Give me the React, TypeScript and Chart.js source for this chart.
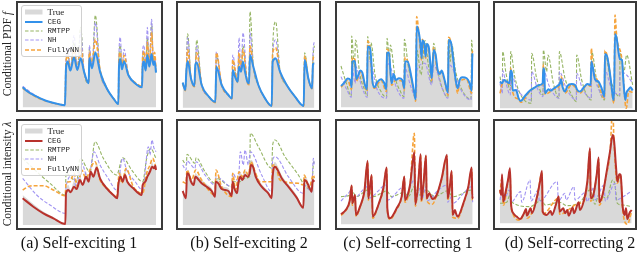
import React, { useEffect, useRef } from "react";
import { Chart, registerables } from "chart.js";

Chart.register(...registerables);

type P = [number, number];

// ---------- (a) Self-exciting 1 : conditional PDF ----------
const aTopTrue: P[] = [[0,20.5],[4.25,15.5],[10.5,10.8],[18,6.4],[25.5,3.8],[31.75,2.1],[32.5,40],[33.75,47],[35.75,37],[38.5,52],[41,37.5],[43.5,51],[46,36],[49.5,24.5],[50,51],[52,39.5],[54.5,57],[58,36],[63,19.3],[68,9.2],[71.75,3.4],[72.25,42],[73.25,50],[74.5,38.5],[76,47],[79.25,32.5],[84.25,24.2],[89.5,20.2],[90,42],[91,47],[92.25,37],[93.5,54],[95,41],[96.75,55],[98,42.5],[99,47],[100,35]];
const aTopCeg: P[] = [[0,20],[4.25,15.3],[10.5,10.7],[18,6.3],[25.5,3.7],[31.75,2],[32.5,39],[33.75,45.7],[35.75,36.7],[38.5,50],[41,37.3],[43.5,49],[46,35.7],[49.5,24],[50,49],[52,39],[54.5,54.7],[58,35.7],[63,19],[68,9],[71.75,3.3],[72.25,40.7],[73.25,48],[74.5,38],[76,45.7],[79.25,32.3],[84.25,24],[89.5,20],[90,40.7],[91,45.7],[92.25,36.7],[93.5,52.3],[95,40.7],[96.75,53.3],[98,42.3],[99,45.7],[100,34.7]];
const aTopRmtpp: P[] = [[0,20],[10.5,10.7],[18,6.3],[25.5,3.7],[31.75,2],[32.5,42],[33.75,55],[35.75,37],[38.5,65],[41,37],[43.5,80],[46,36],[49.5,24],[50,58],[52,40],[54.5,92],[58,37],[63,19],[68,9],[71.75,3],[72.25,50],[73.25,62],[74.5,38],[76,47],[79.25,32],[84.25,24],[89.5,20],[90,52],[91,46],[92.25,37],[93.5,70],[95,41],[96.75,84],[98,43],[99,48],[100,35]];
const aTopNh: P[] = [[0,21],[10.5,11],[18,6],[25.5,3.5],[31.75,2],[32.5,48],[33.75,60],[35.75,38],[38.5,72],[41,38],[43.5,75],[46,37],[49.5,24.5],[50,62],[52,40],[54.5,85],[58,36],[63,19.5],[68,9],[71.75,3.5],[72.25,55],[73.25,70],[74.5,39],[76,58],[79.25,33],[84.25,24.5],[89.5,20],[90,58],[91,62],[92.25,38],[93.5,80],[95,42],[96.75,88],[98,44],[99,50],[100,36]];
const aTopFully: P[] = [[0,19],[4.25,15],[10.5,10],[18,6],[25.5,3.5],[31.75,2.5],[32.5,45],[33.75,52],[35.75,38],[38.5,58],[41,38],[43.5,60],[46,36],[49.5,25],[50,55],[52,42],[54.5,68],[58,38],[63,19.5],[68,9],[71.75,4],[72.25,48],[73.25,55],[74.5,40],[76,52],[79.25,33],[84.25,25],[89.5,21],[90,50],[91,56],[92.25,38],[93.5,65],[95,42],[96.75,75],[98,45],[99,55],[100,38]];

// ---------- (a) Self-exciting 1 : conditional intensity ----------
const aBotTrue: P[] = [[0,30],[8,21],[15.5,13.5],[23,8],[32,2],[32.5,34],[34.25,40],[36,35],[38.5,44],[40.5,38],[43,50],[45,42],[47.5,53],[49.5,45],[51,58],[53,50],[55.5,62],[58,48],[63,38],[68,31],[71,28],[71.75,44],[73.5,53],[75,45],[76.75,55],[78.5,45],[83,38],[89.25,31],[90,44],[92,47],[93.5,52],[95.5,57],[97,63],[98.5,59],[99.5,63],[100,57]];
const aBotCeg: P[] = [[0,26.7],[8,18.3],[15.5,11.7],[23,6.7],[32,1],[32.5,31.7],[34.25,35],[36,32.7],[38.5,38.3],[40.5,36],[43,45],[45,40],[47.5,48.3],[49.5,43.3],[51,53.3],[53,48.3],[55.5,57.3],[58,46.7],[63,36.7],[68,30],[71,26.7],[71.75,40],[73.5,48.3],[75,43.3],[76.75,50],[78.5,43.3],[83,36.7],[89.25,30],[90,40],[92,43.3],[93.5,48.3],[95.5,53.3],[97,58.3],[98.5,56.7],[99.5,59.3],[100,55]];
const aBotRmtpp: P[] = [[0,66.7],[10.5,53.3],[20.5,41.7],[32,30],[32.5,51.7],[40.5,43.3],[43,66.7],[50.5,53.3],[54.25,83.3],[60.5,66.7],[70.5,50],[75,67.3],[81.75,55],[90,43.3],[93,66.7],[96,76.7],[100,66.7]];
const aBotNh: P[] = [[0,46.7],[10.5,30],[20.5,20],[32,11.7],[32.5,38.3],[38,50],[40,38.3],[44.25,61.7],[49.25,45],[53.5,73.3],[58,60],[64,47],[70.5,35],[75,66.7],[78,55],[84,44],[90,35],[94.25,78.3],[95.5,70],[97,85],[98.5,76.7],[100,73.3]];
const aBotFully: P[] = [[0,35],[5.5,39],[15.5,39.3],[23,35],[32,29.3],[32.5,41.7],[35.5,43.3],[38.5,51.7],[41,38.3],[44.25,55],[47.5,46.7],[51,56.7],[54.25,63.3],[58,45],[64,36],[70.5,28.3],[72.5,51.7],[74.5,41.7],[77.5,56.7],[83,38.3],[90,31.7],[93,51.7],[95.5,60],[97.5,66.7],[99.5,60]];

// ---------- (b) Self-exciting 2 : conditional PDF ----------
const bTopTrue: P[] = [[0,26],[2,18.5],[2.75,37],[3.75,48],[6.25,30],[8.75,22.5],[9.5,44],[10.5,47],[14.25,23.5],[19.25,12],[24.5,6],[25.25,43],[29.25,23.5],[34.25,13],[37,9.6],[37.5,39],[39.25,32],[41.25,27],[42.25,43],[43.75,37],[45.25,48],[46.75,37],[48.5,27],[49.75,25],[50.5,55],[53,42],[56.75,23.5],[61.75,9.6],[66.75,1.8],[67.5,48],[69.75,51],[73,37],[78,23.5],[84.25,11.4],[90.75,1.8],[91.5,49],[94.25,30],[97,20],[97.75,45],[98.75,46]];
const bTopCeg: P[] = [[0,25],[2,17.7],[2.75,36],[3.75,46.7],[6.25,29.3],[8.75,21.7],[9.5,42.7],[10.5,45.3],[14.25,22.7],[19.25,11.7],[24.5,5.7],[25.25,41],[29.25,22.7],[34.25,12.7],[37,9.3],[37.5,37.7],[39.25,31],[41.25,26],[42.25,41],[43.75,36],[45.25,46],[46.75,36],[48.5,26],[49.75,24.3],[50.5,52.7],[53,41],[56.75,22.7],[61.75,9.3],[66.75,1.7],[67.5,46],[69.75,49.3],[73,36],[78,22.7],[84.25,11],[90.75,1.7],[91.5,47.7],[94.25,29.3],[97,19.3],[97.75,43.7],[98.75,44.3]];
const bTopRmtpp: P[] = [[0,25],[2,17.7],[3.75,74],[6.25,30],[8.75,21.7],[10.5,67.7],[14.25,23],[19.25,11.7],[24.5,5.7],[25.25,52],[29.25,22.7],[34.25,12.7],[37,9.3],[37.5,45],[41.25,26],[42.25,50],[43.75,36],[45.25,62],[48.5,26],[49.75,24.3],[50.5,96],[53,42],[56.75,22.7],[61.75,9.3],[66.75,1.7],[67.5,60],[69.75,86],[73,37],[78,22.7],[84.25,11],[90.75,1.7],[91.5,55],[94.25,29.3],[97,19.3],[97.75,50],[98.75,62]];
const bTopNh: P[] = [[0,25],[2,17.7],[3.75,70],[6.25,29.3],[8.75,21.7],[10.5,62],[14.25,22.7],[19.25,11.7],[24.5,5.7],[25.25,56],[29.25,22.7],[34.25,12.7],[37,9.3],[37.5,52.7],[41.25,26],[42.25,70],[43.75,36],[45.25,75],[48.5,26],[49.75,24.3],[50.5,75],[53,41],[56.75,22.7],[61.75,9.3],[66.75,1.7],[67.5,55],[69.75,68],[73,36],[78,22.7],[84.25,11],[90.75,1.7],[91.5,50],[94.25,29.3],[97,19.3],[97.75,55],[98.75,67]];
const bTopFully: P[] = [[0,24],[2,17],[3.75,58],[6.25,29.3],[8.75,21],[10.5,55],[14.25,22.7],[19.25,11.7],[24.5,5],[25.25,55],[29.25,22.7],[34.25,12.7],[37,9],[37.5,48],[41.25,25],[42.25,55],[43.75,36],[45.25,58],[48.5,25],[49.75,23],[50.5,62],[53,41],[56.75,22.7],[61.75,9.3],[66.75,1.5],[67.5,55],[69.75,60],[73,36],[78,22.7],[84.25,11],[90.75,1.5],[91.5,52],[94.25,29.3],[97,19],[97.75,48],[98.75,52]];

// ---------- (b) Self-exciting 2 : conditional intensity ----------
const bBotTrue: P[] = [[0,37],[2.5,29],[3.25,55],[4.75,54],[6.25,47],[8.25,43],[9.5,52],[11,50],[14.25,45],[18,41],[21.75,37],[24.25,31],[24.75,47],[26.75,45],[29.25,39],[34.25,37],[36.75,32],[37.5,48],[38.75,40],[40.75,35],[41.75,46],[43.25,53],[44.75,49],[46.75,55],[48.75,52],[50.25,56],[51.25,65],[52.75,63],[54.75,52],[59.25,41],[64.25,34],[66.75,29],[67.5,52],[69.25,63],[71.25,59],[74.25,50],[79.25,41],[85.5,30],[90.5,19],[91.25,49],[93,47],[94.75,41],[96.75,36],[97.5,49],[98.75,47]];
const bBotCeg: P[] = [[0,34],[2.5,26.7],[3.25,51.7],[4.75,50],[6.25,43.3],[8.25,40],[9.5,48.3],[11,46.7],[14.25,41.7],[18,38.3],[21.75,34],[24.25,28.3],[24.75,43.3],[26.75,41.7],[29.25,36],[34.25,34],[36.75,29],[37.5,43.3],[38.75,36.7],[40.75,31.7],[41.75,41.7],[43.25,48.3],[44.75,45],[46.75,50],[48.75,48.3],[50.25,51.7],[51.25,60],[52.75,58.3],[54.75,48.3],[59.25,38.3],[64.25,31.7],[66.75,26.7],[67.5,48.3],[69.25,58.3],[71.25,55],[74.25,46.7],[79.25,38.3],[85.5,27.3],[90.5,17.3],[91.25,45],[93,43.3],[94.75,38.3],[96.75,33.3],[97.5,45],[98.75,43.3]];
const bBotRmtpp: P[] = [[0,65],[2.75,60],[3.25,70.7],[9.25,61.7],[10,67.3],[16.75,53.3],[24.25,41.7],[25,46.7],[36.75,38.3],[37.5,43.3],[43,43.3],[46.75,46.7],[50.25,48.3],[50.75,91.7],[56.75,78.3],[66.75,56.7],[67.5,80],[69.25,85],[76.75,68.3],[86.75,50],[91.25,40],[96.75,35],[98.25,63.3],[98.75,61.7]];
const bBotNh: P[] = [[0,60],[2.5,55],[3.25,64],[9.25,56.7],[10,63.3],[16.75,50],[24.25,40],[25,48.3],[36.75,38.3],[37.5,51.7],[41.75,43.3],[43.25,73.3],[45.5,60],[46.75,75],[49.25,60],[50.75,73.3],[59.25,50],[66.75,33.3],[67.5,65],[69.25,68.3],[79.25,48.3],[90.5,31.7],[91.25,40],[96.75,33.3],[98,66.7],[98.75,60]];
const bBotFully: P[] = [[0,43.3],[2.5,41.7],[3.25,55],[6.75,45],[9.75,55],[14.25,45],[24.25,30],[25,55],[29.25,38.3],[36.75,28.3],[37.5,51.7],[39.75,35],[42.25,53.3],[44.75,48.3],[46.75,55],[49.25,50],[51.25,63.3],[54.25,53.3],[58,43.3],[66.75,43.3],[67.5,60],[69.25,60],[73,45],[86.75,41.7],[90.5,40],[91.25,50],[94.75,36.7],[98,50],[98.75,46.7]];

// ---------- (c) Self-correcting 1 : conditional PDF ----------
const cTopTrue: P[] = [[0,20],[2.5,23.5],[5,27.5],[7,26],[8,19],[8.5,44],[10.5,45],[11.5,27],[13,31],[14.5,35.5],[16,33.5],[18,21],[19.5,17],[20,59],[21.5,58.5],[22.5,49],[23.5,26],[25,19],[27.5,24.5],[30,27],[32.5,23],[34,17],[34.5,52.5],[36,53],[37.25,31],[38,23],[39.5,32],[41,26],[43.5,28],[46,26],[47.5,18],[48,44],[50,44.5],[52.5,31],[55,13],[56,7],[56.75,78],[58.25,74],[59.5,62],[60.5,47.5],[61,65],[62.5,62],[63.5,49],[64.25,62],[65.75,59],[67,43],[68,28],[69.5,56],[71,51],[72.5,36],[74.25,32],[75.5,35.5],[78,24.5],[80.25,14],[80.75,65.5],[82.5,63],[84.25,46],[86,26],[87.5,18],[89,26],[91,29],[94.25,28],[96.5,23],[98,16],[98.5,51],[98.75,52.5]];
const cTopCeg: P[] = [[0,21.3],[2.5,24.7],[5,28.7],[7,27.3],[8,20],[8.5,45.7],[10.5,46.3],[11.5,28],[13,32.3],[14.5,36.7],[16,34.7],[18,22.3],[19.5,18],[20,60.7],[21.5,60],[22.5,50.7],[23.5,27.3],[25,20],[27.5,25.7],[30,28],[32.5,24],[34,18],[34.5,54],[36,54.7],[37.25,32.3],[38,24],[39.5,33.3],[41,27.3],[43.5,29],[46,27.3],[47.5,19],[48,45.7],[50,45.7],[52.5,32.3],[55,14],[56,8],[56.75,80.7],[58.25,75.7],[59.5,64],[60.5,49],[61,66.7],[62.5,63.3],[63.5,50.7],[64.25,63.3],[65.75,60.7],[67,44],[68,29],[69.5,57.3],[71,52.3],[72.5,37.3],[74.25,33.3],[75.5,36.7],[78,25.7],[80.25,14.7],[80.75,67.3],[82.5,64.7],[84.25,47.3],[86,27.3],[87.5,19],[89,27.3],[91,30],[94.25,29],[96.5,24],[98,16.7],[98.5,52.3],[98.75,54]];
const cTopRmtpp: P[] = [[0,41.3],[4,24],[7.75,11.3],[8,71.3],[10,40.7],[11,67.3],[14,34],[17.5,18],[19.75,11.3],[20,70.7],[22,47.3],[22.5,64.7],[25.5,32.3],[30,15.7],[34.25,10],[34.5,69],[36.5,47.3],[37,62.3],[40.5,30.7],[44.25,16.7],[47.25,10.7],[47.5,68],[50.5,40.7],[54,21.3],[56.5,10.7],[57,57.3],[60,32.3],[63,66.7],[65.5,42.3],[68,24],[69.5,64],[72.5,37.3],[76,19],[80.25,10],[80.5,68],[82,45.7],[83,63.3],[86,35.7],[90.5,18],[97.5,8],[98,67.3],[98.75,50.7]];
const cTopNh: P[] = [[0,30.7],[4.5,17.3],[7.75,10],[8,42.3],[10.75,24],[11,40.7],[15.5,20.7],[19.75,10],[20,47.3],[22.5,44],[26.75,19],[34.25,9],[34.5,44],[37,40.7],[41.75,19],[47.25,9],[47.5,40.7],[52.5,20],[56.5,9],[57,37.3],[63,44],[68,22.3],[69.5,42.3],[75.5,20],[80.25,9],[80.5,42.3],[83,40.7],[89.25,19],[97.5,7.3],[98,42.3],[98.75,35.7]];
const cTopFully: P[] = [[0,20],[5,27],[8,18],[8.5,50],[10.5,47],[11.5,26],[14.5,35],[18,21],[19.5,16],[20,66],[21.5,61],[23.5,26],[25,19],[30,27],[34,16],[34.5,58],[36,55],[37.25,31],[38,22],[41,27],[46,26],[47.5,17],[48,50],[50,46],[52.5,31],[55,12],[56,6],[56.75,90.7],[58.25,76],[60.5,47],[61,68],[63.5,49],[64.25,64],[67,43],[68,27],[69.5,60],[72.5,36],[75.5,35],[78,24],[80.25,12],[80.75,70],[82.5,65],[86,26],[87.5,14],[89,26],[94.25,28],[98,14],[98.5,56],[98.75,55]];

// ---------- (c) Self-correcting 1 : conditional intensity ----------
const cBotTrue: P[] = [[0,11],[3.5,15.5],[6.5,24.5],[8,40],[8.5,22],[10.5,30.5],[11.25,10],[14.25,18.5],[17.5,34],[20,65],[20.5,27],[23,50.5],[23.75,8.5],[28,20],[31.75,37],[34.25,58],[34.75,17],[36.75,7],[41.75,17],[45.5,29],[47.5,49],[48,25.5],[51.75,40.5],[55,73.5],[55.75,21],[58,44],[59.75,71.5],[60.25,25.5],[62,44],[63.75,70],[64.25,27],[66.25,32],[68.5,26.5],[71.75,30.5],[75.5,47.5],[79.5,71],[80,27],[81.75,40.5],[83,55],[83.75,10],[85.5,15.5],[86.25,12],[87.5,8.5],[91.75,22],[95.5,39],[98,58],[98.5,27],[98.75,28.5]];
const cBotCeg: P[] = [[0,10],[3.5,14.3],[6.5,23.3],[8,38.7],[8.5,21],[10.5,29.3],[11.25,9.3],[14.25,17.7],[17.5,32.7],[20,63.3],[20.5,26],[23,49.3],[23.75,7.7],[28,19.3],[31.75,36],[34.25,56.7],[34.75,16],[36.75,6],[41.75,16],[45.5,27.7],[47.5,47.7],[48,24.3],[51.75,39.3],[55,72],[55.75,20],[58,42.7],[59.75,70],[60.25,24.3],[62,42.7],[63.75,68.7],[64.25,26],[66.25,31],[68.5,25.3],[71.75,29.3],[75.5,46],[79.5,69.3],[80,26],[81.75,39.3],[83,53.3],[83.75,9.3],[85.5,14.3],[86.25,11],[87.5,7.7],[91.75,21],[95.5,37.7],[98,56.7],[98.5,26],[98.75,27.7]];
const cBotRmtpp: P[] = [[0,27.7],[6.75,29.3],[8,33.3],[11.75,27.7],[20,34.3],[24.25,27.7],[34.25,33.3],[38,27.7],[47.5,32],[50.5,27.7],[55,37.7],[59.25,29.3],[63.75,34.3],[70.5,27.7],[79.5,33.3],[84.25,27.7],[98,34.3],[98.75,29.3]];
const cBotNh: P[] = [[0,23.3],[5.5,31],[8,34.3],[8.5,24.3],[20,37.7],[20.5,26],[34.25,39.3],[34.75,24.3],[47.5,37.7],[48,27.7],[55,44.3],[55.75,22.7],[59.75,37.7],[60.5,24.3],[63.75,37.7],[64.5,23.3],[73,34.3],[79.5,39.3],[80,22],[83,27.7],[83.75,21],[93,32.7],[98,37.7],[98.75,22]];
const cBotFully: P[] = [[0,9],[3.5,13.5],[6.5,22.5],[8,38],[8.5,19],[10.5,28.5],[11.25,8],[14.25,17],[17.5,32],[20,62],[20.5,24],[23,48],[23.75,6],[28,19],[31.75,35],[34.25,56],[34.75,14],[36.75,5],[41.75,15],[45.5,27],[47.5,47],[48,22],[51.75,39],[55,91],[55.75,18],[58,42],[59.75,69],[60.25,22],[62,42],[63.75,68],[64.25,24],[68.5,20],[71.75,29],[75.5,45],[79.5,68],[80,24],[81.75,38],[83,52],[83.75,7],[87.5,6],[91.75,20],[95.5,37],[98,55],[98.5,24],[98.75,26]];

// ---------- (d) Self-correcting 2 : conditional PDF ----------
const dTopTrue: P[] = [[0,26],[1.5,24.5],[3,27.5],[5,26],[7,24.5],[8,36.5],[9,34],[9.5,17],[12,18],[14,9.5],[15.5,7],[18.75,12],[22.5,17.5],[26.25,20.5],[29.5,22.5],[32,24.5],[32.5,39],[33.25,36],[33.75,14.5],[36.25,18.5],[38,17.5],[40.5,19.5],[43,22],[45,24.5],[45.75,28],[47,20.5],[48.75,16.5],[50.5,22],[53.75,24],[56.25,23],[58,18],[60,16.5],[63,20.5],[65.5,24],[68,23],[68.5,45.5],[69.5,41],[71.25,28.5],[73.75,26],[76.25,19.5],[78.25,11.5],[78.75,53],[80.25,51.5],[81.75,41],[83.25,26],[84.75,9.5],[85.5,8],[86.25,72],[87.5,68.5],[89,54],[90,48],[91.5,47.5],[92.5,27.5],[94,8],[94.75,14.5],[96.5,18.5],[98,20.5],[99.5,17.5]];
const dTopCeg: P[] = [[0,26.7],[1.5,25],[3,28.3],[5,26.7],[7,25],[8,37.7],[9,35],[9.5,17.7],[12,18.3],[14,10],[15.5,7.3],[18.75,12.3],[22.5,17.7],[26.25,21],[29.5,23.3],[32,25],[32.5,40],[33.25,36.7],[33.75,15],[36.25,19],[38,17.7],[40.5,20],[43,22.3],[45,25],[45.75,29],[47,21],[48.75,16.7],[50.5,22.3],[53.75,24.3],[56.25,23.3],[58,18.3],[60,16.7],[63,21],[65.5,24.3],[68,23.3],[68.5,46.7],[69.5,41.7],[71.25,29],[73.75,26.7],[76.25,20],[78.25,11.7],[78.75,54.3],[80.25,52.3],[81.75,41.7],[83.25,26.7],[84.75,10],[85.5,8.3],[86.25,74],[87.5,70],[89,55],[90,49],[91.5,48.3],[92.5,28.3],[94,8.3],[94.75,15],[96.5,19],[98,21],[99.5,17.7]];
const dTopRmtpp: P[] = [[0,31.7],[1.75,21],[2,56.7],[4.5,35],[7.75,18.3],[8,56.7],[11,31.7],[16.25,11.7],[23.5,5],[23.75,55],[27.5,30],[32.25,13.3],[32.5,58.3],[35,36.7],[36,53.3],[40,25],[44.25,10],[44.5,56.7],[48.75,30],[53.75,13.3],[57.25,6.7],[57.5,53.3],[61.25,28.3],[65,13.3],[68.5,8.3],[68.75,56.7],[72.5,28.3],[78.5,8.3],[78.75,55],[83,28.3],[89.75,11.7],[90,55],[93,36.7],[95,53.3],[99.5,23.3]];
const dTopNh: P[] = [[0,25],[1.75,15],[2,37.7],[4.5,25],[7.75,13.3],[8,36.7],[12.5,20],[16.25,13.3],[23.5,8.3],[23.75,36.7],[28,20],[32.25,11.7],[32.5,38.3],[37,22],[44.25,10],[44.5,36.7],[50,19],[57.25,8.3],[57.5,35],[62,19],[68.5,10],[68.75,38.3],[73,22],[78.5,10],[78.75,38.3],[83,22],[89.75,13.3],[90,36.7],[95,33.3],[99.5,25]];
const dTopFully: P[] = [[0,15],[1.5,24],[3,28],[7,24],[8,40],[9.5,16],[14,9],[15.5,6],[22.5,17],[29.5,23],[32,24],[32.5,44],[33.75,14],[40.5,19],[45,24],[45.75,32],[48.75,15],[53.75,24],[60,15],[65.5,24],[68,22],[68.5,60],[69.5,44],[73.75,26],[78.25,10],[78.75,58],[81.75,42],[84.75,8],[85.5,5],[86.25,93.3],[87.5,72],[91.5,48],[94,4],[94.75,0],[96.5,17],[99.5,16]];

// ---------- (d) Self-correcting 2 : conditional intensity ----------
const dBotTrue: P[] = [[0,35],[1,30],[1.5,51],[2.5,23],[4,31.5],[6,45],[7.5,57],[8.25,21.5],[10,11],[12.5,7.5],[15,5],[18,11],[19.5,15.5],[20.25,8.5],[23,16],[24,11],[27.5,26.5],[30,43.5],[31.5,54],[32,12.5],[35,9],[38,13],[39,9],[42,20],[44,28],[44.75,12.5],[47.5,16],[48.75,11],[50.5,14],[51.5,8.5],[54.5,16.5],[55.5,11],[59,22],[60,14],[63,24.5],[65.5,43.5],[67.5,77],[68,26],[70,29.5],[72.5,50],[74,67.5],[74.5,22],[77,30],[80,53.5],[82.5,73.5],[84.5,90],[85.5,85],[87,58.5],[88,43],[89.5,50.5],[90.5,50],[92,17.5],[93.5,9],[94.5,16],[95.5,5],[97,11],[98.75,14]];
const dBotCeg: P[] = [[0,33.3],[1,28.3],[1.5,49],[2.5,21.7],[4,30],[6,43.3],[7.5,55],[8.25,20],[10,10],[12.5,6.7],[15,4.3],[18,10],[19.5,14.3],[20.25,7.7],[23,15],[24,10],[27.5,25],[30,41.7],[31.5,52.3],[32,11.7],[35,8.3],[38,12.3],[39,8.3],[42,19],[44,26.7],[44.75,11.7],[47.5,15],[48.75,10],[50.5,13.3],[51.5,7.7],[54.5,15.7],[55.5,10],[59,21],[60,13.3],[63,23.3],[65.5,41.7],[67.5,75],[68,25],[70,28.3],[72.5,48.3],[74,65.7],[74.5,21],[77,29],[80,51.7],[82.5,71.7],[84.5,88.3],[85.5,83.3],[87,56.7],[88,41.7],[89.5,49],[90.5,48.3],[92,16.7],[93.5,8.3],[94.5,15],[95.5,4.3],[97,10],[98.75,13.3]];
const dBotRmtpp: P[] = [[0,20],[5,21],[7.5,28.3],[9,21],[22.5,16.7],[31.5,23.3],[33.75,18.3],[45,21],[50,17.7],[60,21],[67.5,33.3],[71.25,19],[74,28.3],[80,25],[84.5,43.3],[86.25,38.3],[88,20],[92,18.3],[98.75,16.7]];
const dBotNh: P[] = [[0,23.3],[1,31.7],[2.5,21],[7,33.3],[8.25,21],[15.5,31.7],[16.25,21],[22.5,43.3],[23.25,22.3],[28.75,33.3],[29.5,21.7],[43,41.7],[43.75,22.3],[48.75,30],[49.5,23.3],[55.5,36.7],[56.25,23.3],[64.5,31],[65,21.7],[70.5,35.7],[71.25,23.3],[78,38.3],[79,22.3],[86.25,40],[87,23.3],[92.5,26.7],[97.5,31],[98.75,31.7]];
const dBotFully: P[] = [[0,30],[1.5,45],[2.5,18],[6,42],[7.5,52],[8.25,16],[15,3],[19.5,13],[20.25,5],[27.5,24],[31.5,50],[32,9],[44,25],[44.75,9],[59,20],[63,22],[65.5,40],[67.5,73],[68,22],[72.5,47],[74,64],[74.5,18],[80,50],[82.5,70],[84.5,115],[85.5,82],[88,40],[90.5,47],[92,14],[95.5,-1],[98.75,12]];

// ---------- legend / labels ----------
const seriesLabels = ["True", "CEG", "RMTPP", "NH", "FullyNN"];
const captions = ["(a) Self-exciting 1", "(b) Self-exciting 2", "(c) Self-correcting 1", "(d) Self-correcting 2"];

const GRAY = "#d9d9d9";
const BLUE = "#3391ea";
const RED = "#b8322c";
const GREEN = "#95b463";
const PURPLE = "#a194f2";
const ORANGE = "#f6a43c";

const SERIF = '"Liberation Serif", "DejaVu Serif", serif';
const MONO = '"Liberation Mono", "DejaVu Sans Mono", monospace';

interface Spec {
  left: number; top: number; width: number; height: number;
  x: [number, number]; y: [number, number];
  tr: P[]; ceg: P[]; rm: P[]; nh: P[]; fn: P[]; cegColor: string;
}

const specs: Spec[] = [
  { left: 16, top: 1, width: 147, height: 111, x: [-5, 105.25], y: [-4.7, 106.3], tr: aTopTrue, ceg: aTopCeg, rm: aTopRmtpp, nh: aTopNh, fn: aTopFully, cegColor: BLUE },
  { left: 176, top: 1, width: 145, height: 111, x: [-5, 103.75], y: [-4.3, 106.7], tr: bTopTrue, ceg: bTopCeg, rm: bTopRmtpp, nh: bTopNh, fn: bTopFully, cegColor: BLUE },
  { left: 335, top: 1, width: 145, height: 111, x: [-4.5, 104.25], y: [-4.7, 106.3], tr: cTopTrue, ceg: cTopCeg, rm: cTopRmtpp, nh: cTopNh, fn: cTopFully, cegColor: BLUE },
  { left: 493, top: 1, width: 144, height: 111, x: [-5.25, 102.75], y: [-3.7, 107.3], tr: dTopTrue, ceg: dTopCeg, rm: dTopRmtpp, nh: dTopNh, fn: dTopFully, cegColor: BLUE },
  { left: 16, top: 119, width: 147, height: 111, x: [-5, 105.25], y: [-5, 106], tr: aBotTrue, ceg: aBotCeg, rm: aBotRmtpp, nh: aBotNh, fn: aBotFully, cegColor: RED },
  { left: 176, top: 119, width: 145, height: 111, x: [-5, 103.75], y: [-5, 106], tr: bBotTrue, ceg: bBotCeg, rm: bBotRmtpp, nh: bBotNh, fn: bBotFully, cegColor: RED },
  { left: 335, top: 119, width: 145, height: 111, x: [-4.5, 104.25], y: [-5.7, 105.3], tr: cBotTrue, ceg: cBotCeg, rm: cBotRmtpp, nh: cBotNh, fn: cBotFully, cegColor: RED },
  { left: 493, top: 119, width: 144, height: 111, x: [-5.25, 102.75], y: [-6.7, 104.3], tr: dBotTrue, ceg: dBotCeg, rm: dBotRmtpp, nh: dBotNh, fn: dBotFully, cegColor: RED },
];

const toXY = (arr: P[]) => arr.map(([x, y]) => ({ x, y }));

function Panel({ s }: { s: Spec }) {
  const ref = useRef<HTMLCanvasElement>(null);
  useEffect(() => {
    const line = (label: string, d: P[], color: string, width: number, dash: number[], order: number) => ({
      label, data: toXY(d), borderColor: color, borderWidth: width, borderDash: dash,
      pointRadius: 0, fill: false, order, cubicInterpolationMode: "monotone",
    });
    const chart = new Chart(ref.current as HTMLCanvasElement, {
      type: "line",
      data: {
        datasets: [
          { label: seriesLabels[0], data: toXY(s.tr), borderWidth: 0, borderColor: "rgba(0,0,0,0)", backgroundColor: GRAY, fill: "origin", pointRadius: 0, order: 10, cubicInterpolationMode: "monotone" },
          line(seriesLabels[2], s.rm, GREEN, 1.1, [3.5, 1.8], 4),
          line(seriesLabels[3], s.nh, PURPLE, 1.1, [3.5, 1.8], 3),
          line(seriesLabels[4], s.fn, ORANGE, 1.6, [4, 2], 2),
          line(seriesLabels[1], s.ceg, s.cegColor, 2, [], 1),
        ] as any,
      },
      options: {
        animation: false,
        responsive: false,
        events: [],
        layout: { padding: 0 },
        plugins: { legend: { display: false }, tooltip: { enabled: false } },
        scales: {
          x: { type: "linear", min: s.x[0], max: s.x[1], display: false },
          y: { type: "linear", min: s.y[0], max: s.y[1], display: false },
        },
      },
    });
    return () => chart.destroy();
  }, [s]);
  return (
    <div style={{ position: "absolute", left: s.left, top: s.top, width: s.width, height: s.height }}>
      <canvas ref={ref} width={s.width} height={s.height} style={{ display: "block", width: s.width, height: s.height }} />
      <div style={{ position: "absolute", inset: 0, border: "2px solid #3a3a3a", boxSizing: "border-box", pointerEvents: "none" }} />
    </div>
  );
}

function Legend({ top, cegColor }: { top: number; cegColor: string }) {
  const handles = [
    <rect key="t" x={0} y={1.5} width={17.5} height={5} fill={GRAY} />,
    <line key="c" x1={0} y1={4} x2={17.5} y2={4} stroke={cegColor} strokeWidth={2} />,
    <line key="r" x1={0} y1={4} x2={17.5} y2={4} stroke={GREEN} strokeWidth={1.1} strokeDasharray="3.5 1.8" />,
    <line key="n" x1={0} y1={4} x2={17.5} y2={4} stroke={PURPLE} strokeWidth={1.1} strokeDasharray="3.5 1.8" />,
    <line key="f" x1={0} y1={4} x2={17.5} y2={4} stroke={ORANGE} strokeWidth={1.6} strokeDasharray="4 2" />,
  ];
  return (
    <div style={{ position: "absolute", left: 20.5, top, width: 61, height: 52, border: "1px solid #d0d0d0", borderRadius: 3, background: "rgba(255,255,255,0.85)", boxSizing: "border-box" }}>
      {seriesLabels.map((lab, i) => (
        <div key={lab} style={{ position: "absolute", left: 0, top: 6.2 + 9.4 * i - 4, height: 8, width: 60 }}>
          <svg width={18} height={8} style={{ position: "absolute", left: 3, top: 0 }}>{handles[i]}</svg>
          <span style={{ position: "absolute", left: 26, top: -1, fontFamily: i === 0 ? SERIF : MONO, fontSize: i === 0 ? 9 : 7.5, lineHeight: "10px", color: "#222", whiteSpace: "nowrap" }}>{lab}</span>
        </div>
      ))}
    </div>
  );
}

export default function App() {
  const capCenters = [79, 249, 408, 570];
  return (
    <div style={{ position: "fixed", left: 0, top: 0, width: 640, height: 262, background: "#fff", overflow: "hidden" }}>
      {specs.map((s, i) => <Panel key={i} s={s} />)}
      <Legend top={5} cegColor={BLUE} />
      <Legend top={124} cegColor={RED} />
      <div style={{ position: "absolute", left: 6.5, top: 54, transform: "translate(-50%,-50%) rotate(-90deg)", whiteSpace: "nowrap", fontFamily: SERIF, fontSize: 11.5, color: "#222" }}>
        Conditional PDF <i>f</i>
      </div>
      <div style={{ position: "absolute", left: 6.5, top: 174, transform: "translate(-50%,-50%) rotate(-90deg)", whiteSpace: "nowrap", fontFamily: SERIF, fontSize: 11.5, color: "#222" }}>
        Conditional intensity <i>λ</i>
      </div>
      {captions.map((c, i) => (
        <div key={c} style={{ position: "absolute", left: capCenters[i], top: 243, transform: "translate(-50%,-50%)", whiteSpace: "nowrap", fontFamily: SERIF, fontSize: 16, color: "#111" }}>
          {c}
        </div>
      ))}
    </div>
  );
}
